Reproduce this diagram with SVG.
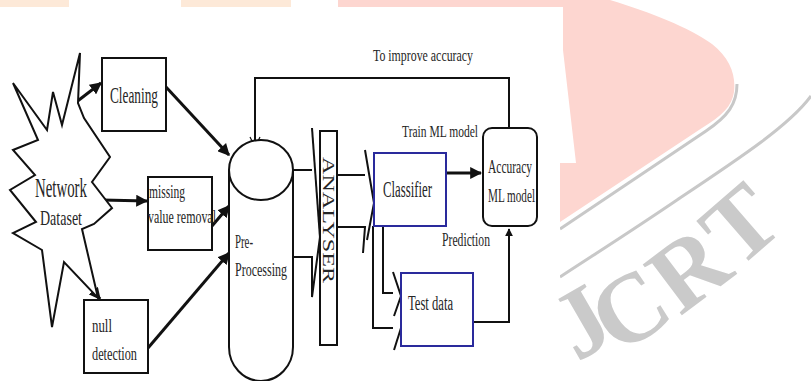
<svg xmlns="http://www.w3.org/2000/svg" width="811" height="381" viewBox="0 0 811 381">
  <style>
    .ln { fill: none; stroke: #111; stroke-width: 2; }
    .thick { fill: none; stroke: #111; stroke-width: 3; }
    .box { fill: #fff; stroke: #111; stroke-width: 2; }
    .bbox { fill: #fff; stroke: #2a2a9c; stroke-width: 2; }
    .t { font-family: "Liberation Serif", "Times New Roman", serif; fill: #262626; }
    .wm { font-family: "Liberation Serif", "Times New Roman", serif; font-weight: bold; font-size: 98px; fill: #cacaca; text-anchor: middle; }
  </style>
  <defs>
    <marker id="fill" viewBox="0 0 10 10" refX="9" refY="5" markerWidth="4" markerHeight="4" orient="auto" markerUnits="strokeWidth">
      <path d="M0,0 L10,5 L0,10 Z" fill="#111"/>
    </marker>
    <marker id="open" viewBox="0 0 12 12" refX="11" refY="6" markerWidth="6" markerHeight="6" orient="auto" markerUnits="strokeWidth">
      <path d="M1,1 L11,6 L1,11" fill="none" stroke="#111" stroke-width="1.2"/>
    </marker>
  </defs>

  <rect width="811" height="381" fill="#fff"/>

  <!-- page background: coloured header strips and watermark -->
  <g id="background">
    <rect x="0" y="0" width="69" height="7" fill="#fde9d8"/>
    <rect x="181" y="0" width="110" height="7" fill="#fde9d8"/>
    <path d="M338,0 H610 C650,12 690,28 712,44 C730,58 736,75 734,92 C732,106 722,116 702,128 L560,222 V7 H338 Z" fill="#fdd6d0"/>
    <path d="M737,84 C737,104 728,116 706,131 L560,229" fill="none" stroke="#c8c8c8" stroke-width="3"/>
    <path d="M811,96 C790,125 740,158 677,200 C630,232 595,254 560,277" fill="none" stroke="#c8c8c8" stroke-width="3"/>
    <path d="M0,7 H563 V50 L576,163 H560 V381 H0 Z" fill="#fff"/>
    <text class="wm" transform="translate(584,326) rotate(-30)" y="28" font-size="84">J</text>
    <text class="wm" transform="translate(630,310) rotate(-33)" y="32">C</text>
    <text class="wm" transform="translate(689,270) rotate(-37)" y="32">R</text>
    <text class="wm" transform="translate(741,225) rotate(-41)" y="32">T</text>
  </g>

  <!-- connectors -->
  <g id="connectors">
    <!-- feedback loop -->
    <path class="ln" d="M509,128 V78 H255 V147" marker-end="url(#open)"/>
    <!-- dataset to cleaning steps -->
    <path class="thick" d="M75,103 L101,83" marker-end="url(#fill)"/>
    <path class="thick" d="M102,200 L147,201" marker-end="url(#fill)"/>
    <path class="thick" d="M75,268 L100,299" marker-end="url(#fill)"/>
    <!-- cleaning steps to pre-processing -->
    <path class="thick" d="M166,87 L229,155" marker-end="url(#fill)"/>
    <path class="thick" d="M212,226 L229,206" marker-end="url(#fill)"/>
    <path class="thick" d="M148,348 L229,253" marker-end="url(#fill)"/>
    <!-- pre-processing to analyser -->
    <path class="ln" d="M293,170 H312"/>
    <path class="ln" d="M312,128 L320,238"/>
    <path class="ln" d="M293,257 H312 V297 L320,237"/>
    <!-- analyser to classifier / test data -->
    <path class="ln" d="M337,175 H365"/>
    <path class="ln" d="M365,150 L374,203 L367,240"/>
    <path class="ln" d="M337,227 H365 L363,253"/>
    <path class="ln" d="M383,226 V293 H393"/>
    <path class="ln" d="M393,272 L401,296 L394,316"/>
    <path class="ln" d="M373,226 V328 H393"/>
    <path class="ln" d="M401,328 L394,350"/>
    <!-- classifier to accuracy -->
    <path class="thick" d="M446,173 H481" marker-end="url(#fill)"/>
    <!-- prediction -->
    <path class="ln" d="M473,322 H509 V229" marker-end="url(#fill)"/>
  </g>

  <g id="network-dataset">
    <path class="box" d="M80,53 L78,103 L84,118 L110,157 L92,182 L112,208 L94,224 L82,229 L98,298 L64,262 L52,327 L42,250 L13,233 L36,222 L10,190 L35,175 L13,150 L38,140 L13,83 L47,130 L53,92 L62,125 Z"/>
    <text class="t" x="61" y="197" font-size="28" text-anchor="middle" textLength="52" lengthAdjust="spacingAndGlyphs">Network</text>
    <text class="t" x="61" y="225" font-size="22" text-anchor="middle" textLength="42" lengthAdjust="spacingAndGlyphs">Dataset</text>
  </g>

  <g id="cleaning">
    <rect class="box" x="102" y="58" width="64" height="73"/>
    <text class="t" x="110" y="103" font-size="24" textLength="48" lengthAdjust="spacingAndGlyphs">Cleaning</text>
  </g>

  <g id="missing-value-removal">
    <rect class="box" x="148" y="177" width="64" height="73"/>
    <text class="t" x="149" y="198" font-size="19" textLength="36" lengthAdjust="spacingAndGlyphs">missing</text>
    <text class="t" x="148" y="223" font-size="19" textLength="68" lengthAdjust="spacingAndGlyphs">value removal</text>
  </g>

  <g id="null-detection">
    <rect class="box" x="84" y="300" width="64" height="73"/>
    <text class="t" x="92" y="332" font-size="19" textLength="20" lengthAdjust="spacingAndGlyphs">null</text>
    <text class="t" x="92" y="360" font-size="19" textLength="45" lengthAdjust="spacingAndGlyphs">detection</text>
  </g>

  <g id="pre-processing">
    <path class="box" d="M229,170 V347 A32,34 0 0 0 293,347 V170"/>
    <ellipse class="box" cx="261" cy="170" rx="32" ry="30"/>
    <text class="t" x="235" y="248" font-size="18" textLength="18" lengthAdjust="spacingAndGlyphs">Pre-</text>
    <text class="t" x="235" y="276" font-size="18" textLength="52" lengthAdjust="spacingAndGlyphs">Processing</text>
  </g>

  <g id="analyser">
    <rect class="box" x="320" y="131" width="17" height="214"/>
    <text class="t" transform="translate(323,157) rotate(90)" font-size="17" textLength="126" lengthAdjust="spacingAndGlyphs">ANALYSER</text>
  </g>

  <g id="classifier">
    <rect class="bbox" x="374" y="153" width="72" height="73"/>
    <text class="t" x="383" y="197" font-size="24" textLength="49" lengthAdjust="spacingAndGlyphs">Classifier</text>
  </g>

  <g id="test-data">
    <rect class="bbox" x="401" y="273" width="72" height="73"/>
    <text class="t" x="408" y="310" font-size="20" textLength="45" lengthAdjust="spacingAndGlyphs">Test data</text>
  </g>

  <g id="accuracy-ml-model">
    <rect class="box" x="483" y="128" width="54" height="98" rx="9"/>
    <text class="t" x="488" y="173" font-size="19" textLength="44" lengthAdjust="spacingAndGlyphs">Accuracy</text>
    <text class="t" x="488" y="202" font-size="19" textLength="47" lengthAdjust="spacingAndGlyphs">ML model</text>
  </g>

  <g id="labels">
    <text class="t" x="373" y="61" font-size="16" textLength="100" lengthAdjust="spacingAndGlyphs">To improve accuracy</text>
    <text class="t" x="402" y="137" font-size="16" textLength="76" lengthAdjust="spacingAndGlyphs">Train ML model</text>
    <text class="t" x="442" y="246" font-size="18" textLength="48" lengthAdjust="spacingAndGlyphs">Prediction</text>
  </g>
</svg>
